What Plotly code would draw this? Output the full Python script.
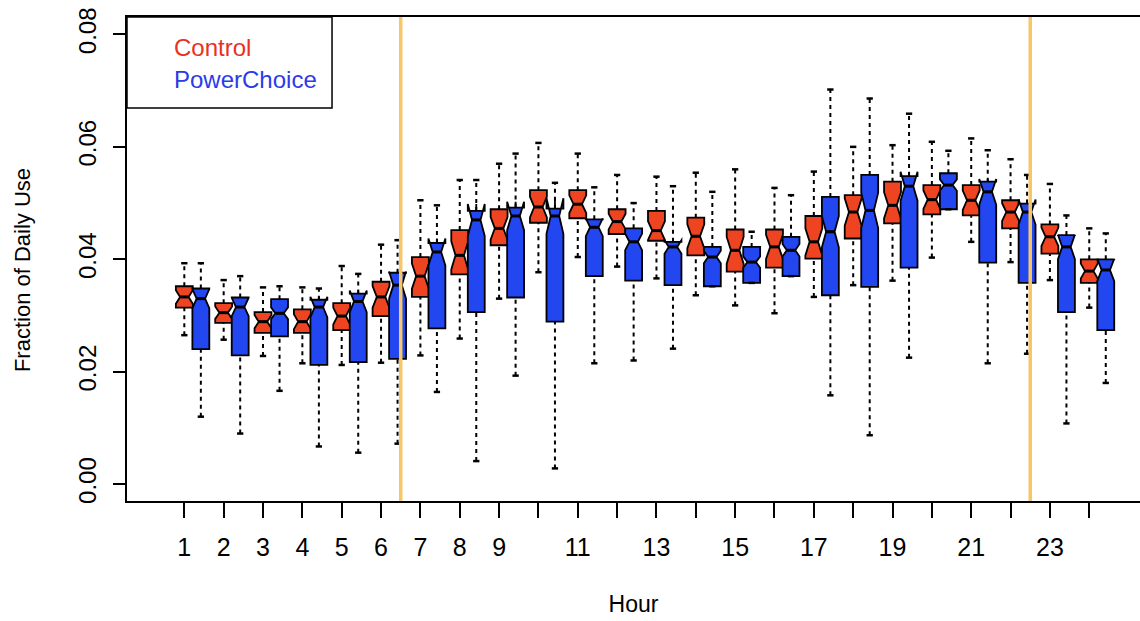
import plotly.graph_objects as go

hours = list(range(1, 25))
tick_text = ["1", "2", "3", "4", "5", "6", "7", "8", "9", "", "11", "", "13", "", "15", "",
             "17", "", "19", "", "21", "", "23", ""]

# Control group (fraction of daily use)
ctrl_upper = [0.0393, 0.0363, 0.0350, 0.0350, 0.0388, 0.0426, 0.0505, 0.0541, 0.0570, 0.0607, 0.0588, 0.0550,
              0.0547, 0.0554, 0.0560, 0.0527, 0.0556, 0.0600, 0.0603, 0.0609, 0.0615, 0.0578, 0.0534, 0.0455]
ctrl_q3 = [0.0352, 0.0322, 0.0306, 0.0311, 0.0322, 0.0360, 0.0404, 0.0452, 0.0489, 0.0523, 0.0523, 0.0489,
           0.0486, 0.0474, 0.0453, 0.0453, 0.0477, 0.0514, 0.0538, 0.0532, 0.0532, 0.0505, 0.0462, 0.0400]
ctrl_med = [0.0333, 0.0305, 0.0289, 0.0289, 0.0299, 0.0333, 0.0370, 0.0407, 0.0455, 0.0493, 0.0498, 0.0467,
            0.0451, 0.0441, 0.0416, 0.0422, 0.0431, 0.0484, 0.0496, 0.0506, 0.0505, 0.0484, 0.0440, 0.0379]
ctrl_q1 = [0.0314, 0.0287, 0.0269, 0.0269, 0.0274, 0.0299, 0.0333, 0.0373, 0.0425, 0.0465, 0.0473, 0.0445,
           0.0433, 0.0407, 0.0378, 0.0385, 0.0401, 0.0437, 0.0464, 0.0480, 0.0478, 0.0455, 0.0410, 0.0358]
ctrl_lower = [0.0265, 0.0257, 0.0228, 0.0215, 0.0212, 0.0216, 0.0229, 0.0259, 0.0330, 0.0377, 0.0404, 0.0387,
              0.0366, 0.0336, 0.0318, 0.0304, 0.0333, 0.0354, 0.0362, 0.0403, 0.0431, 0.0395, 0.0363, 0.0314]

# PowerChoice group
pc_upper = [0.0393, 0.0370, 0.0352, 0.0348, 0.0374, 0.0434, 0.0496, 0.0541, 0.0588, 0.0536, 0.0528, 0.0500,
            0.0530, 0.0520, 0.0449, 0.0514, 0.0702, 0.0686, 0.0659, 0.0593, 0.0594, 0.0550, 0.0478, 0.0446]
pc_q3 = [0.0348, 0.0332, 0.0329, 0.0328, 0.0339, 0.0376, 0.0429, 0.0486, 0.0492, 0.0490, 0.0471, 0.0455,
         0.0431, 0.0422, 0.0422, 0.0440, 0.0511, 0.0550, 0.0548, 0.0553, 0.0538, 0.0499, 0.0443, 0.0400]
pc_med = [0.0330, 0.0315, 0.0304, 0.0315, 0.0325, 0.0354, 0.0413, 0.0470, 0.0477, 0.0477, 0.0457, 0.0431,
          0.0422, 0.0404, 0.0395, 0.0416, 0.0449, 0.0487, 0.0530, 0.0532, 0.0520, 0.0484, 0.0422, 0.0381]
pc_q1 = [0.0240, 0.0229, 0.0263, 0.0212, 0.0217, 0.0223, 0.0277, 0.0306, 0.0332, 0.0289, 0.0370, 0.0362,
         0.0354, 0.0352, 0.0358, 0.0370, 0.0336, 0.0351, 0.0385, 0.0489, 0.0394, 0.0358, 0.0306, 0.0274]
pc_lower = [0.0120, 0.0090, 0.0166, 0.0067, 0.0056, 0.0072, 0.0164, 0.0041, 0.0193, 0.0028, 0.0215, 0.0220,
            0.0241, 0.0352, 0.0358, 0.0370, 0.0158, 0.0087, 0.0225, 0.0489, 0.0215, 0.0232, 0.0108, 0.0180]

ctrl_n = 25
pc_n = 100
box_w = 0.43
pc_shift = 0.42
cap_half = 0.08
night_lines = [6.5, 22.5]

RED = "#EE4422"
BLUE = "#2246F0"

def notch(q1, q3, n):
    return [1.58 * (b - a) / n ** 0.5 for a, b in zip(q1, q3)]

def whisker_xy(xs, lo, q1, q3, hi):
    wx, wy, cx, cy = [], [], [], []
    for x, a, b, c, d in zip(xs, lo, q1, q3, hi):
        wx += [x, x, None, x, x, None]
        wy += [a, b, None, c, d, None]
        cx += [x - cap_half, x + cap_half, None, x - cap_half, x + cap_half, None]
        cy += [a, a, None, d, d, None]
    return wx, wy, cx, cy

def median_xy(xs, med):
    mx, my = [], []
    for x, m in zip(xs, med):
        mx += [x - box_w / 4, x + box_w / 4, None]
        my += [m, m, None]
    return mx, my

ctrl_x = hours
pc_x = [h + pc_shift for h in hours]

fig = go.Figure()
for xs, lo, q1, q3, hi in [(ctrl_x, ctrl_lower, ctrl_q1, ctrl_q3, ctrl_upper),
                           (pc_x, pc_lower, pc_q1, pc_q3, pc_upper)]:
    wx, wy, cx, cy = whisker_xy(xs, lo, q1, q3, hi)
    fig.add_trace(go.Scatter(x=wx, y=wy, mode="lines", showlegend=False, hoverinfo="skip",
                             line=dict(color="black", width=2, dash="4px,4px")))
    fig.add_trace(go.Scatter(x=cx, y=cy, mode="lines", showlegend=False, hoverinfo="skip",
                             line=dict(color="black", width=2.5)))

for name, xs, q1, med, q3, n, col in [("Control", ctrl_x, ctrl_q1, ctrl_med, ctrl_q3, ctrl_n, RED),
                                      ("PowerChoice", pc_x, pc_q1, pc_med, pc_q3, pc_n, BLUE)]:
    fig.add_trace(go.Box(
        name=name, x=xs, q1=q1, median=med, q3=q3, lowerfence=q1, upperfence=q3,
        notched=True, notchspan=notch(q1, q3, n), notchwidth=0.25, width=box_w,
        whiskerwidth=0, fillcolor=col, line=dict(color="black", width=1.8),
        boxpoints=False, showlegend=False))

for xs, med in [(ctrl_x, ctrl_med), (pc_x, pc_med)]:
    mx, my = median_xy(xs, med)
    fig.add_trace(go.Scatter(x=mx, y=my, mode="lines", showlegend=False, hoverinfo="skip",
                             line=dict(color="black", width=3)))

for xv in night_lines:
    fig.add_shape(type="line", x0=xv, x1=xv, y0=0, y1=1, xref="x", yref="paper",
                  line=dict(color="#F6C667", width=3.5), layer="above")

# legend box
fig.add_shape(type="rect", xref="paper", yref="paper", x0=0, x1=0.2024, y0=0.812, y1=1,
              line=dict(color="black", width=1.5), fillcolor="white", layer="above")
fig.add_annotation(text="Control", xref="paper", yref="paper", x=0.0444, y=0.938,
                   xanchor="left", yanchor="middle", showarrow=False,
                   font=dict(family="Liberation Sans", size=24, color="#E8321E"))
fig.add_annotation(text="PowerChoice", xref="paper", yref="paper", x=0.0444, y=0.870,
                   xanchor="left", yanchor="middle", showarrow=False,
                   font=dict(family="Liberation Sans", size=24, color="#2A3CE8"))

# y-axis title
fig.add_annotation(text="Fraction of Daily Use", xref="paper", yref="paper", x=-0.1037, y=0.477,
                   xanchor="center", yanchor="middle", textangle=-90, showarrow=False,
                   font=dict(family="Liberation Sans", size=22, color="black"))

fig.update_layout(
    width=1140, height=621,
    margin=dict(l=127, r=0, t=17, b=120),
    paper_bgcolor="white", plot_bgcolor="white",
    font=dict(family="Liberation Sans", color="black"),
    boxmode="overlay", showlegend=False,
    xaxis=dict(range=[-0.457, 25.29], showgrid=False, zeroline=False,
               showline=True, mirror=True, linecolor="black", linewidth=1.5,
               ticks="outside", ticklen=15, tickwidth=1.8, tickcolor="black",
               tickvals=hours, ticktext=tick_text, tickfont=dict(size=25),
               ticklabelstandoff=8,
               title=dict(text="Hour", font=dict(size=23), standoff=36)),
    yaxis=dict(range=[-0.0030, 0.0831], showgrid=False, zeroline=False,
               showline=True, mirror=False, linecolor="black", linewidth=1.5,
               ticks="outside", ticklen=12, tickwidth=1.8, tickcolor="black",
               tickvals=[0, 0.02, 0.04, 0.06, 0.08],
               ticktext=["0.00", "0.02", "0.04", "0.06", "0.08"],
               tickangle=-90, tickfont=dict(size=24), ticklabelstandoff=8),
)

fig.write_html("out.html")
